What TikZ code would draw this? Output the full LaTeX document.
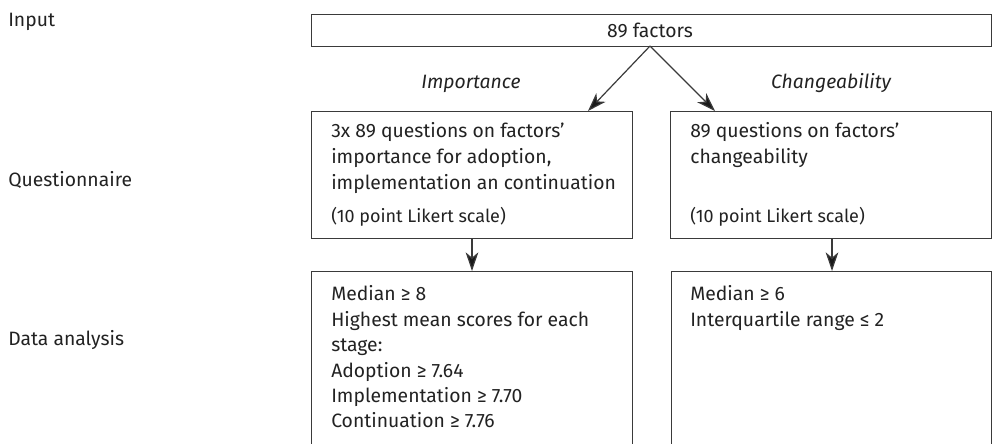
\documentclass[tikz,border=0pt]{standalone}
\usepackage{fontspec}
\setmainfont{Fira Sans}
\usetikzlibrary{arrows.meta}
\definecolor{txt}{HTML}{222222}
\definecolor{ln}{HTML}{3A3A3A}
\begin{document}
\begin{tikzpicture}[x=0.75pt,y=-0.75pt,
  box/.style={draw=ln,line width=1pt,rectangle,inner sep=0pt,anchor=north west},
  lbl/.style={text=txt,inner sep=0pt,anchor=base west,font=\fontsize{14.5}{18}\selectfont},
  mid/.style={text=txt,inner sep=0pt,anchor=base,font=\fontsize{14.5}{18}\selectfont},
  note/.style={text=txt,inner sep=0pt,anchor=base west,font=\fontsize{13.5}{16}\selectfont},
  arr/.style={draw=ln,line width=0.9pt,-{Stealth[length=14pt,width=9.5pt,inset=4pt,fill=black!90]}}]
\useasboundingbox (0,0) rectangle (992,443);
\clip (0,0) rectangle (992,443);
% row labels
\node[lbl] (rinput) at (8,26) {Input};
\node[lbl] (rquest) at (8,186) {Questionnaire};
\node[lbl] (rdata) at (8,345) {Data analysis};
% boxes
\node[box,minimum width=510pt,minimum height=24pt] (top) at (311,14) {};
\node[box,minimum width=240.75pt,minimum height=95.25pt] (qL) at (311,111) {};
\node[box,minimum width=240.75pt,minimum height=95.25pt] (qR) at (670,111) {};
\node[box,minimum width=240.75pt,minimum height=150pt] (aL) at (311,271) {};
\node[box,minimum width=240pt,minimum height=150pt] (aR) at (671,271) {};
% texts
\node[mid] (factors) at (650,37) {89 factors};
\node[mid,font=\fontsize{14.5}{18}\selectfont\itshape] (imp) at (471,88) {Importance};
\node[mid,font=\fontsize{14.5}{18}\selectfont\itshape] (chg) at (831,88) {Changeability};
\node[lbl] (qL1) at (331,137) {3x 89 questions on factors'};
\node[lbl] (qL2) at (331,163) {importance for adoption,};
\node[lbl] (qL3) at (331,189) {implementation an continuation};
\node[note] (qL4) at (331,222) {(10 point Likert scale)};
\node[lbl] (qR1) at (690,137) {89 questions on factors'};
\node[lbl] (qR2) at (690,163) {changeability};
\node[note] (qR4) at (690,222) {(10 point Likert scale)};
\node[lbl] (aL1) at (331,300) {Median ≥ 8};
\node[lbl] (aL2) at (331,326) {Highest mean scores for each};
\node[lbl] (aL3) at (331,351.5) {stage:};
\node[lbl] (aL4) at (331,377) {Adoption ≥ 7.64};
\node[lbl] (aL5) at (331,402) {Implementation ≥ 7.70};
\node[lbl] (aL6) at (331,427) {Continuation ≥ 7.76};
\node[lbl] (aR1) at (690,300) {Median ≥ 6};
\node[lbl] (aR2) at (690,326) {Interquartile range ≤ 2};
% connectors
\coordinate (src) at (650,46);
\coordinate (tL) at (588,111);
\coordinate (tR) at (715,111);
\draw[arr] (src) -- (tL);
\draw[arr] (src) -- (tR);
\draw[arr] (472,238) coordinate (sL) -- (sL |- aL.north);
\draw[arr] (832,238) coordinate (sR) -- (sR |- aR.north);
\end{tikzpicture}
\end{document}
